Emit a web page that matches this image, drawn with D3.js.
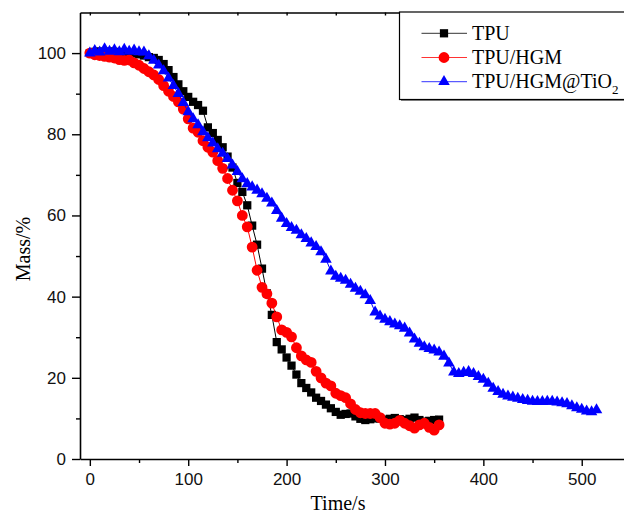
<!DOCTYPE html>
<html>
<head>
    <meta charset="utf-8">
    <title>Mass loss</title>
    <script src="https://d3js.org/d3.v7.min.js"></script>
    <style>
        body { margin: 0; background: #fff; }
        .axis text { font-family: "Liberation Sans", Arial, sans-serif; font-size: 17px; fill: #111; }
        .axis path, .axis line { stroke: #000; }
        .title { font-family: "Liberation Serif", "Times New Roman", serif; font-size: 20px; fill: #000; }
        .legend text { font-family: "Liberation Serif", "Times New Roman", serif; font-size: 20px; fill: #000; }
    </style>
</head>
<body>
<div id="chart"></div>
<script>
// time (s) shared by TPU and TPU/HGM
var timeA = [0, 5, 10, 15, 20, 25, 30, 35, 40, 45, 50, 55, 60, 65, 70, 75, 80, 85, 90, 95,
    100, 105, 110, 115, 120, 125, 130, 135, 140, 145, 150, 155, 160, 165, 170, 175, 180, 185, 190, 195,
    200, 205, 210, 215, 220, 225, 230, 235, 240, 245, 250, 255, 260, 265, 270, 275, 280, 285, 290, 295,
    300, 305, 310, 315, 320, 325, 330, 335, 340, 345, 350, 355];
var tpuMass = [100.0, 100.3, 100.4, 100.2, 100.4, 100.3, 100.1, 100.2, 100.0, 99.9,
    99.7, 99.4, 99.0, 98.8, 98.3, 97.3, 95.8, 94.1, 92.3, 90.6,
    89.2, 88.0, 87.2, 85.8, 81.7, 80.3, 78.6, 76.8, 74.5, 71.8,
    68.0, 65.8, 62.5, 57.5, 52.8, 46.9, 40.8, 35.5, 28.8, 27.0,
    25.0, 23.0, 20.8, 18.7, 17.5, 16.4, 15.1, 14.3, 13.4, 12.5,
    11.6, 10.9, 11.1, 11.2, 10.5, 9.9, 9.6, 9.8, 10.0, 10.0,
    9.7, 9.9, 10.1, 9.8, 9.6, 9.9, 10.2, 9.6, 9.2, 9.4,
    9.6, 9.7];
var hgmMass = [100.0, 99.6, 99.4, 99.2, 99.0, 98.8, 98.4, 98.2, 98.3, 97.6,
    97.0, 96.2, 95.4, 94.6, 93.5, 92.0, 90.6, 89.3, 88.0, 86.2,
    83.8, 81.5, 80.5, 78.4, 76.8, 75.6, 73.5, 71.6, 69.1, 66.2,
    63.6, 60.0, 57.2, 52.2, 46.5, 42.3, 40.7, 38.4, 35.0, 31.8,
    31.2, 30.1, 27.4, 25.4, 24.4, 23.8, 21.6, 20.0, 18.7, 18.0,
    16.2, 15.6, 15.1, 13.6, 12.2, 11.4, 11.2, 11.2, 11.2, 10.2,
    8.8, 8.6, 8.8, 9.5, 8.8, 8.2, 7.6, 8.4, 8.8, 7.8,
    7.1, 8.4];

// time (s) for TPU/HGM@TiO2
var timeB = [0, 5, 10, 15, 20, 25, 30, 35, 40, 45, 50, 55, 60, 65, 70, 75, 80, 85, 90, 95,
    100, 105, 110, 115, 120, 125, 130, 135, 140, 145, 150, 155, 160, 165, 170, 175, 180, 185, 190, 195,
    200, 205, 210, 215, 220, 225, 230, 235, 240, 245, 250, 255, 260, 265, 270, 275, 280, 285, 290, 295,
    300, 305, 310, 315, 320, 325, 330, 335, 340, 345, 350, 355, 360, 365, 370, 375, 380, 385, 390, 395,
    400, 405, 410, 415, 420, 425, 430, 435, 440, 445, 450, 455, 460, 465, 470, 475, 480, 485, 490, 495,
    500, 505, 510, 515];
var tioMass = [100.0, 100.6, 100.2, 101.0, 100.4, 100.8, 100.3, 100.9, 100.4, 100.7,
    100.3, 100.2, 99.3, 98.2, 97.0, 95.6, 93.8, 92.0, 90.0, 87.8,
    85.5, 83.8, 82.3, 80.6, 79.1, 77.8, 76.4, 75.3, 74.0, 72.4,
    70.8, 69.0, 67.8, 67.0, 66.2, 65.3, 64.2, 63.0, 61.2, 59.3,
    58.0, 57.0, 56.3, 55.2, 54.3, 53.2, 52.3, 51.0, 49.2, 46.3,
    45.0, 44.5, 44.0, 43.0, 42.0, 41.3, 40.4, 39.0, 36.2, 35.2,
    34.4, 33.8, 33.2, 32.8, 32.2, 31.0, 29.5, 28.5, 27.6, 27.2,
    26.8, 26.3, 25.3, 23.6, 21.4, 21.0, 21.3, 21.5, 21.0, 20.3,
    19.6, 18.6, 17.4, 16.6, 15.9, 15.5, 15.2, 14.9, 14.6, 14.4,
    14.2, 14.1, 14.1, 14.2, 14.2, 14.0, 13.8, 13.6, 13.1, 12.6,
    12.2, 11.8, 11.6, 12.1];

var seriesNames = ["TPU", "TPU/HGM", "TPU/HGM@TiO"];
var xTicks = [0, 100, 200, 300, 400, 500];
var yTicks = [0, 20, 40, 60, 80, 100];

var series = [
    { name: seriesNames[0], t: timeA, m: tpuMass, color: "#000000", shape: d3.symbolSquare, size: 68 },
    { name: seriesNames[1], t: timeA, m: hgmMass, color: "#ff0000", shape: d3.symbolCircle, size: 92 },
    { name: seriesNames[2], t: timeB, m: tioMass, color: "#0000ff", shape: d3.symbolTriangle, size: 58 }
];

// plot box
var margin = { top: 12.5, left: 80 },
    width = 546,
    height = 446.5;

var svg = d3.select("#chart").append("svg")
    .attr("width", 624)
    .attr("height", 514);

var g = svg.append("g")
    .attr("transform", "translate(" + margin.left + "," + margin.top + ")");

var x = d3.scaleLinear().domain([-10, 545]).range([0, width]);
var y = d3.scaleLinear().domain([0, 110]).range([height, 0]);

// minor ticks
var xMinor = d3.range(50, 550, 100);
var yMinor = d3.range(10, 110, 20);

// bottom axis
var xAxis = g.append("g").attr("class", "axis")
    .attr("transform", "translate(0," + height + ")")
    .call(d3.axisBottom(x).tickValues(xTicks).tickSize(7).tickPadding(7).tickSizeOuter(0));
xAxis.selectAll("line").attr("stroke-width", 1.4);
xAxis.select(".domain").attr("stroke-width", 1.6);
g.append("g").attr("class", "axis")
    .attr("transform", "translate(0," + height + ")")
    .call(d3.axisBottom(x).tickValues(xMinor).tickSize(4).tickFormat("").tickSizeOuter(0))
    .call(function (s) { s.select(".domain").remove(); s.selectAll("line").attr("stroke-width", 1.4); });

// top axis, ticks inward
g.append("g").attr("class", "axis")
    .call(d3.axisTop(x).tickValues(xTicks.concat(xMinor)).tickSize(-3).tickFormat("").tickSizeOuter(0))
    .call(function (s) { s.select(".domain").attr("stroke-width", 1.6); s.selectAll("line").attr("stroke-width", 1.4); });

// left axis
var yAxis = g.append("g").attr("class", "axis")
    .call(d3.axisLeft(y).tickValues(yTicks).tickSize(8).tickPadding(6).tickSizeOuter(0));
yAxis.selectAll("line").attr("stroke-width", 1.4);
yAxis.select(".domain").attr("stroke-width", 1.6);
g.append("g").attr("class", "axis")
    .call(d3.axisLeft(y).tickValues(yMinor).tickSize(4).tickFormat("").tickSizeOuter(0))
    .call(function (s) { s.select(".domain").remove(); s.selectAll("line").attr("stroke-width", 1.4); });

// data
series.forEach(function (s) {
    var pts = s.t.map(function (t, i) { return [t, s.m[i]]; });
    g.append("path")
        .datum(pts)
        .attr("fill", "none")
        .attr("stroke", s.color)
        .attr("stroke-width", 1)
        .attr("d", d3.line().x(function (d) { return x(d[0]); }).y(function (d) { return y(d[1]); }));
    g.append("g").selectAll("path")
        .data(pts)
        .enter()
        .append("path")
        .attr("d", d3.symbol().type(s.shape).size(s.size))
        .attr("transform", function (d) { return "translate(" + x(d[0]) + "," + y(d[1]) + ")"; })
        .attr("fill", s.color);
});

// axis titles
svg.append("text")
    .attr("class", "title")
    .attr("x", 338)
    .attr("y", 510)
    .attr("text-anchor", "middle")
    .text("Time/s");

svg.append("text")
    .attr("class", "title")
    .attr("transform", "translate(30,249) rotate(-90)")
    .attr("text-anchor", "middle")
    .text("Mass/%");

// legend
var legend = svg.append("g").attr("class", "legend");
legend.append("rect")
    .attr("x", 401).attr("y", 14).attr("width", 260).attr("height", 87)
    .attr("fill", "#888");
legend.append("rect")
    .attr("x", 399.5).attr("y", 12).attr("width", 260).attr("height", 87.5)
    .attr("fill", "#fff").attr("stroke", "#000").attr("stroke-width", 1.2);

var rowY = [33.3, 57.5, 81.7];
series.forEach(function (s, i) {
    var row = legend.append("g").attr("transform", "translate(0," + rowY[i] + ")");
    row.append("line")
        .attr("x1", 421.5).attr("x2", 467)
        .attr("stroke", s.color).attr("stroke-width", 1).attr("stroke-opacity", 0.8);
    row.append("path")
        .attr("d", d3.symbol().type(s.shape).size(s.size))
        .attr("transform", "translate(444,0)")
        .attr("fill", s.color);
    var t = row.append("text").attr("x", 472).attr("y", 6.5).text(s.name);
    if (i === 2) {
        t.append("tspan").attr("dy", 6).attr("font-size", "13px").text("2");
    }
});
</script>
</body>
</html>
